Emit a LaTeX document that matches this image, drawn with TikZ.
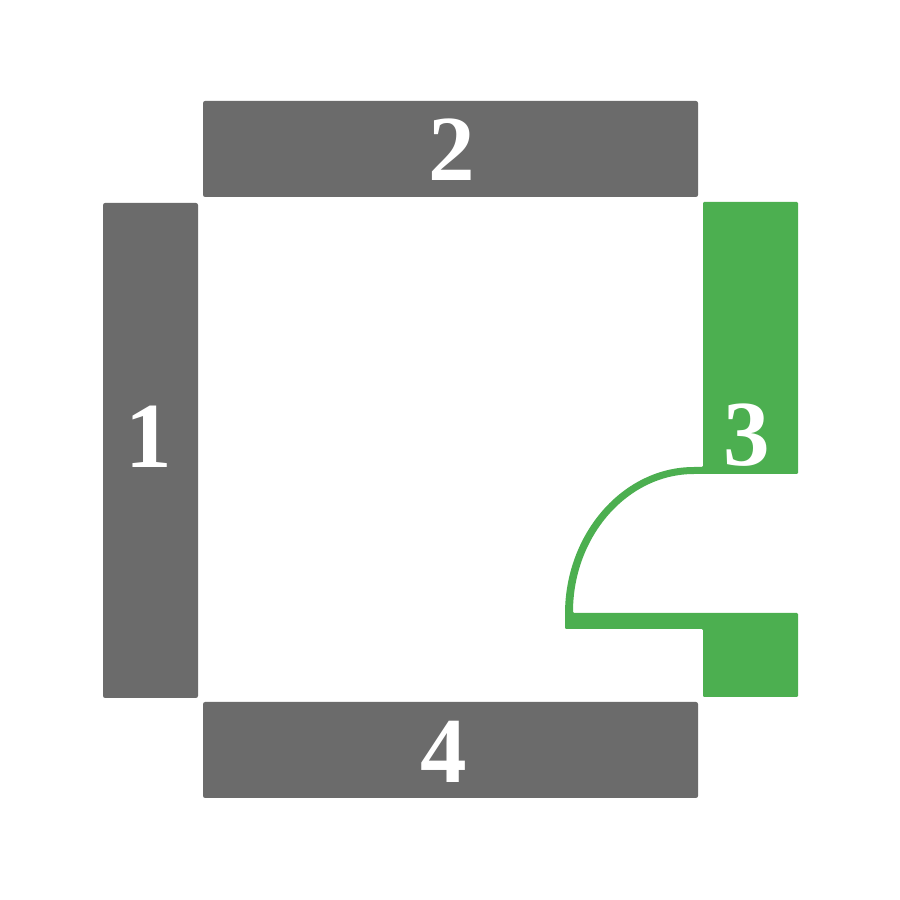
\documentclass[tikz,border=0pt]{standalone}
\usepackage{fontspec}
\setmainfont{Liberation Serif}
\usepackage{xcolor}
\definecolor{bar-gray}{HTML}{6B6B6B}
\definecolor{door-green}{HTML}{4CAF50}
\tikzset{
    wall-bar/.style = {fill=bar-gray, rectangle, rounded corners=0.6pt, inner sep=0pt},
    wall-label/.style = {text=white, font=\bfseries\fontsize{26.5}{26.5}\selectfont, inner sep=0pt},
}

\begin{document}
\begin{tikzpicture}
\useasboundingbox (0,0) rectangle (9,9);
\node [wall-bar, minimum width=0.95cm, minimum height=4.95cm] (wall-one) at (1.505,4.495) {};
\node [wall-bar, minimum width=4.95cm, minimum height=0.96cm] (wall-two) at (4.505,7.51) {};
\node [wall-bar, minimum width=4.95cm, minimum height=0.96cm] (wall-four) at (4.505,1.5) {};
% door wall, with the swing of the leaf
\fill [door-green, rounded corners=0.3pt] (7.03,6.98) -- (7.98,6.98) -- (7.98,4.26) -- (6.95,4.26)
    arc [start angle=90, end angle=180, x radius=1.22, y radius=1.39]
    -- (7.98,2.87) -- (7.98,2.03) -- (7.03,2.03) -- (7.03,2.71) -- (5.65,2.71) -- (5.65,2.85)
    arc [start angle=180, end angle=90, x radius=1.30, y radius=1.48]
    -- (7.03,4.33) -- cycle;
\node [wall-label] (label-one) at (1.49,4.63) {1};
\node [wall-label] (label-two) at (4.515,7.5) {2};
\node [wall-label] (label-three) at (7.47,4.65) {3};
\node [wall-label] (label-four) at (4.44,1.48) {4};
\end{tikzpicture}
\end{document}
